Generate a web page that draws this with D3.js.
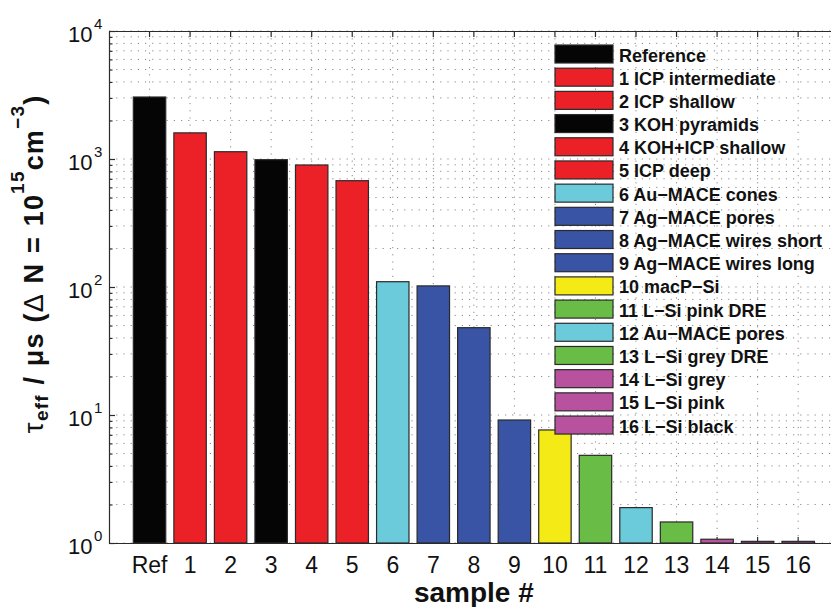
<!DOCTYPE html>
<html>
<head>
<meta charset="utf-8">
<script src="https://cdn.jsdelivr.net/npm/d3@7"></script>
<style>
  body { margin: 0; background: #fff; }
  svg text { font-family: "Liberation Sans", Arial, Helvetica, sans-serif; fill: #111; }
</style>
</head>
<body>
<svg id="chart" width="831" height="607"></svg>
<script>
// Sample labels on the x axis
const categories = ["Ref", "1", "2", "3", "4", "5", "6", "7", "8", "9", "10", "11", "12", "13", "14", "15", "16"];
// Legend entries, one per sample
const sampleNames = [
  "Reference", "1 ICP intermediate", "2 ICP shallow", "3 KOH pyramids", "4 KOH+ICP shallow",
  "5 ICP deep", "6 Au\u2212MACE cones", "7 Ag\u2212MACE pores", "8 Ag\u2212MACE wires short",
  "9 Ag\u2212MACE wires long", "10 macP\u2212Si", "11 L\u2212Si pink DRE", "12 Au\u2212MACE pores",
  "13 L\u2212Si grey DRE", "14 L\u2212Si grey", "15 L\u2212Si pink", "16 L\u2212Si black"
];
// Effective lifetime in microseconds at ΔN = 1e15 cm^-3
const lifetimes = [3050, 1600, 1140, 988, 898, 677, 110, 102, 48.1, 9.14, 7.64, 4.84, 1.89, 1.46, 1.07, 1.03, 1.03];
// Texture family of each sample (sets the bar colour)
const families = ["planar", "icp", "icp", "planar", "icp", "icp", "auMace", "agMace", "agMace", "agMace",
                  "macp", "lsiDre", "auMace", "lsiDre", "lsi", "lsi", "lsi"];
// Decade exponents labelled on the y axis
const yExponents = [0, 1, 2, 3, 4];

const familyColor = d3.scaleOrdinal()
  .domain(["planar", "icp", "auMace", "agMace", "macp", "lsiDre", "lsi"])
  .range(["#050505", "#ec2027", "#6bcbdb", "#3953a5", "#f4ea15", "#69bc46", "#b8519e"]);

const svg = d3.select("#chart");
const plot = { left: 109, right: 838.7, top: 31, bottom: 543 };

const x = d3.scaleBand()
  .domain(categories)
  .range([plot.left, plot.right])
  .paddingInner(0.2)
  .paddingOuter(0.6);
const cx = c => x(c) + x.bandwidth() / 2;

const y = d3.scaleLog().domain([1, 1e4]).range([plot.bottom, plot.top]);

const majorY = yExponents.map(e => Math.pow(10, e));
const minorY = [];
yExponents.slice(0, -1).forEach(e => {
  for (let m = 2; m <= 9; m++) minorY.push(m * Math.pow(10, e));
});

// Dotted grid (major + minor on the log axis, one vertical per sample)
const grid = svg.append("g").attr("stroke", "#8a8a8a").attr("stroke-width", 1)
  .attr("stroke-dasharray", "1.2,6").attr("fill", "none");
grid.selectAll("line.h").data(majorY.concat(minorY)).join("line").attr("class", "h")
  .attr("x1", plot.left).attr("x2", plot.right)
  .attr("y1", d => y(d)).attr("y2", d => y(d));
grid.selectAll("line.v").data(categories).join("line").attr("class", "v")
  .attr("x1", cx).attr("x2", cx)
  .attr("y1", plot.top).attr("y2", plot.bottom);

// Axes with inward ticks
const axisColor = "#2b2b2b";
function styleAxis(g) {
  g.selectAll("path, line").attr("stroke", axisColor).attr("stroke-width", 1.2);
}
svg.append("g").attr("transform", `translate(0,${plot.bottom})`)
  .call(d3.axisBottom(x).tickSize(-6).tickSizeOuter(0).tickPadding(13.5))
  .call(styleAxis)
  .call(g => g.selectAll("text").attr("font-size", 23).attr("fill", "#111")
    .style("font-family", '"Liberation Sans", Arial, sans-serif'));
svg.append("g").attr("transform", `translate(0,${plot.top})`)
  .call(d3.axisTop(x).tickSize(-6).tickSizeOuter(0).tickFormat(""))
  .call(styleAxis);
svg.append("g").attr("transform", `translate(${plot.left},0)`)
  .call(d3.axisLeft(y).tickValues(majorY).tickSize(-6).tickSizeOuter(0).tickFormat(""))
  .call(styleAxis);
svg.append("g").attr("transform", `translate(${plot.left},0)`)
  .call(d3.axisLeft(y).tickValues(minorY).tickSize(-3.5).tickSizeOuter(0).tickFormat(""))
  .call(g => g.select(".domain").remove())
  .call(styleAxis);
svg.append("g").attr("transform", `translate(${plot.right},0)`)
  .call(d3.axisRight(y).tickValues(majorY).tickSize(-6).tickSizeOuter(0).tickFormat(""))
  .call(styleAxis);

// y tick labels: 10 with superscript exponent
const yLabels = svg.append("g");
yExponents.forEach(e => {
  const yy = y(Math.pow(10, e));
  yLabels.append("text").attr("x", 92.5).attr("y", yy + 10.5)
    .attr("text-anchor", "end").attr("font-size", 22).text("10");
  yLabels.append("text").attr("x", 94).attr("y", yy - 2.5)
    .attr("font-size", 15).text(String(e));
});

// Bars
svg.append("g").selectAll("rect").data(categories).join("rect")
  .attr("x", c => x(c))
  .attr("width", x.bandwidth())
  .attr("y", (c, i) => y(lifetimes[i]))
  .attr("height", (c, i) => plot.bottom - y(lifetimes[i]))
  .attr("fill", (c, i) => familyColor(families[i]))
  .attr("stroke", "#2a2a2a").attr("stroke-width", 1.2);

// Legend (transparent, no frame)
const legend = svg.append("g");
const rowStep = 23.19;
sampleNames.forEach((name, i) => {
  const top = 45 + i * rowStep;
  legend.append("rect").attr("x", 555).attr("y", top).attr("width", 58).attr("height", 18)
    .attr("fill", familyColor(families[i])).attr("stroke", "#2a2a2a").attr("stroke-width", 1.2);
  legend.append("text").attr("x", 619).attr("y", top + 16.5)
    .attr("font-size", 18).attr("font-weight", "bold").text(name);
});

// Axis titles
svg.append("text").attr("x", (plot.left + plot.right) / 2).attr("y", 602)
  .attr("text-anchor", "middle").attr("font-size", 28).attr("font-weight", "bold")
  .text("sample #");

const yTitle = svg.append("text")
  .attr("transform", "translate(43,264) rotate(-90)")
  .attr("text-anchor", "middle").attr("font-size", 27).attr("font-weight", "bold")
  .style("letter-spacing", "1.2px").style("word-spacing", "1px");
yTitle.append("tspan").attr("font-weight", "normal").attr("font-size", 28).text("\u03c4");
yTitle.append("tspan").attr("font-size", 19).attr("dy", 5).text("eff");
yTitle.append("tspan").attr("dy", -5).text(" / \u03bcs (");
yTitle.append("tspan").attr("font-weight", "normal").text("\u0394");
yTitle.append("tspan").text(" N = 10");
yTitle.append("tspan").attr("font-size", 19).attr("dy", -19).text("15");
yTitle.append("tspan").attr("dy", 19).text("cm");
yTitle.append("tspan").attr("font-size", 19).attr("dy", -19).text("\u22123");
yTitle.append("tspan").attr("dy", 19).text(")");
</script>
</body>
</html>
